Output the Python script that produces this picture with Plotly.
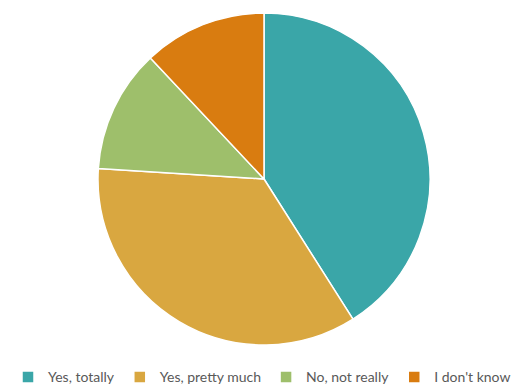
import plotly.graph_objects as go

labels = ["Yes, totally", "Yes, pretty much", "No, not really", "I don't know"]
values = [41, 35, 12, 12]
colors = ["#3AA6A8", "#D9A740", "#9EBF6B", "#D97C10"]

fig = go.Figure(go.Pie(
    labels=labels,
    values=values,
    sort=False,
    direction="clockwise",
    rotation=0,
    textinfo="none",
    hoverinfo="label+percent",
    marker=dict(colors=colors, line=dict(color="white", width=1.5)),
))

fig.update_layout(
    width=524,
    height=385,
    margin=dict(l=4, r=0, t=13, b=40),
    paper_bgcolor="white",
    plot_bgcolor="white",
    showlegend=True,
    legend=dict(
        orientation="h",
        xref="container",
        x=0.5,
        xanchor="center",
        yref="container",
        y=0.02,
        yanchor="middle",
        font=dict(family="Lato", size=14, color="#595959"),
    ),
)

fig.write_html("out.html", config={"displayModeBar": False},
               post_script="document.body.style.margin='0';")
